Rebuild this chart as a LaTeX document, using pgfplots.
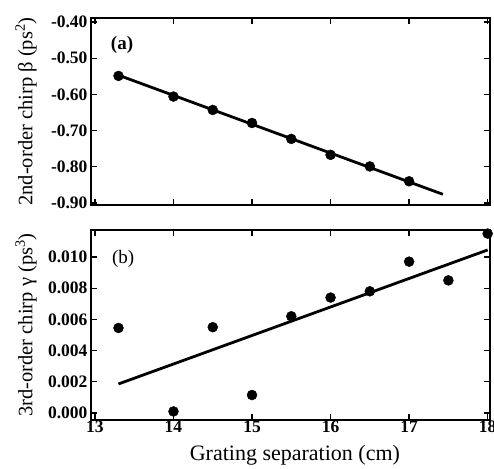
\documentclass[border=0pt]{standalone}
\usepackage{pgfplots}
\pgfplotsset{compat=1.18}
\usepackage{fontspec}
\setmainfont{Liberation Serif}

\pgfplotsset{
  chirp/.style={
    scale only axis,
    width=399pt,
    xmin=12.95, xmax=18.03,
    xtick={13,14,15,16,17,18},
    tick align=inside,
    major tick length=6pt,
    tick style={line width=1.3pt, black},
    axis line style={line width=1.8pt},
    xtick pos=both, ytick pos=both,
    tick label style={font=\fontsize{17.5}{17.5}\selectfont\bfseries},
    xticklabel style={yshift=3pt},
    label style={font=\fontsize{20.5}{20.5}\selectfont},
    /pgf/number format/assume math mode=true,
    /pgf/number format/fixed,
    /pgf/number format/fixed zerofill,
  },
}

\begin{document}
\begin{tikzpicture}[x=1pt,y=1pt]
\useasboundingbox (0,0) rectangle (494,468);

% panel (a)
\begin{axis}[chirp,
    at={(91pt,263pt)}, anchor=south west,
    height=187pt,
    ymin=-0.9055, ymax=-0.389,
    ytick={-0.9,-0.8,-0.7,-0.6,-0.5,-0.4},
    yticklabel style={/pgf/number format/precision=2},
    xticklabels={},
    ylabel={2nd-order chirp β (ps\textsuperscript{2})},
    ylabel style={at={(axis description cs:-0.163,0.5)}, anchor=center},
]
\addplot[only marks, mark=*, mark size=5pt, black]
coordinates {
  (13.3,-0.549) (14,-0.606) (14.5,-0.643) (15,-0.679)
  (15.5,-0.723) (16,-0.767) (16.5,-0.799) (17,-0.840)
};
\addplot[black, line width=2.8pt] coordinates {(13.3,-0.547) (17.43,-0.876)};
\node[font=\fontsize{19}{19}\selectfont\bfseries] at (axis cs:13.345,-0.4635) {(a)};
\end{axis}

% panel (b)
\begin{axis}[chirp,
    at={(91pt,48pt)}, anchor=south west,
    height=190pt,
    clip=false,
    ymin=-0.00045, ymax=0.01173,
    ytick={0,0.002,0.004,0.006,0.008,0.010},
    scaled y ticks=false,
    yticklabel style={/pgf/number format/precision=3},
    xticklabel style={/pgf/number format/precision=0, /pgf/number format/fixed zerofill=false},
    xlabel={Grating separation (cm)},
    ylabel={3rd-order chirp γ (ps\textsuperscript{3})},
    ylabel style={at={(axis description cs:-0.163,0.5)}, anchor=center},
    xlabel style={at={(axis description cs:0.511,-0.184)}, anchor=center,
                  font=\fontsize{22}{22}\selectfont},
]
\addplot[only marks, mark=*, mark size=5pt, black]
coordinates {
  (13.3,0.00545) (14,0.0001) (14.5,0.0055) (15,0.00115)
  (15.5,0.0062) (16,0.0074) (16.5,0.0078) (17,0.0097)
  (17.5,0.0085) (18,0.0115)
};
\addplot[black, line width=2.8pt] coordinates {(13.3,0.00186) (18,0.01045)};
\node[font=\fontsize{19}{19}\selectfont] at (axis cs:13.36,0.00987) {(b)};
\end{axis}
\end{tikzpicture}
\end{document}
